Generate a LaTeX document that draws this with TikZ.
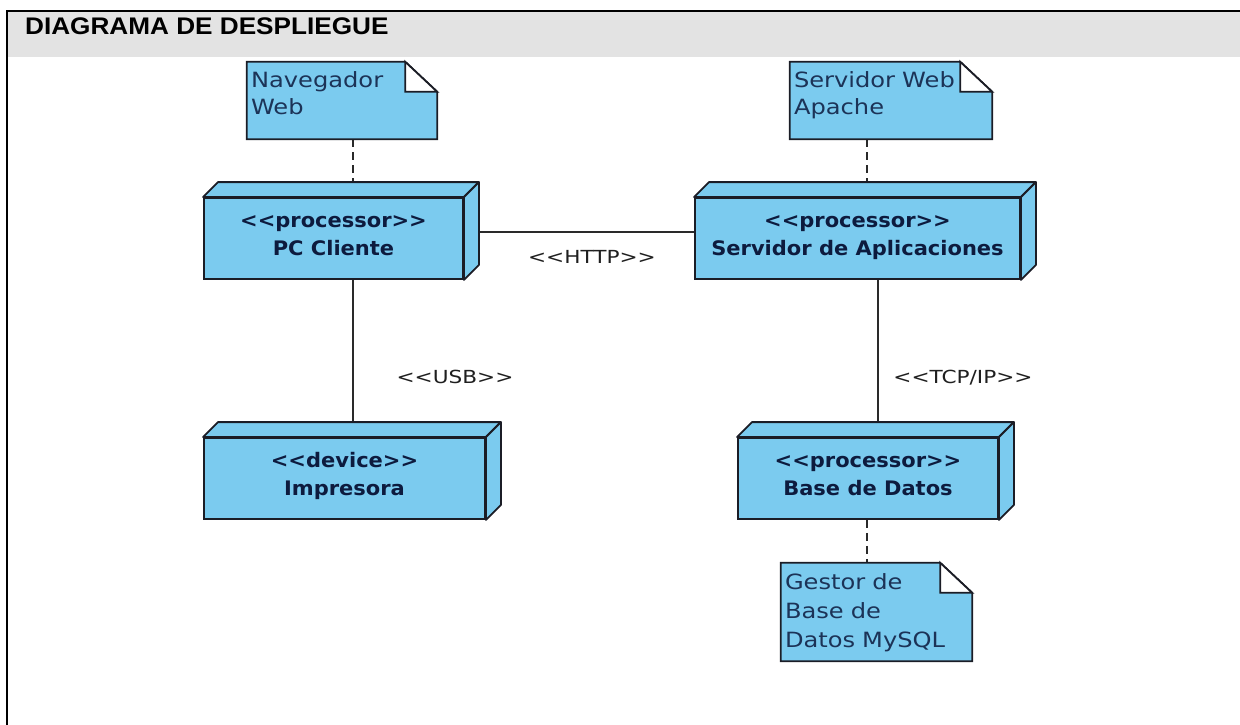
\documentclass[tikz,border=0pt]{standalone}
\usepackage{fontspec}
\usetikzlibrary{calc}

\newfontfamily\umlfont{DejaVu Sans}[FakeStretch=1.2]
\newfontfamily\notefont{DejaVu Sans}[FakeStretch=1.15]
\newfontfamily\umlboldfont{DejaVu Sans}[FakeStretch=1.05]
\newfontfamily\titlefont{Liberation Sans}[FakeStretch=1.09]

\definecolor{umlfill}{HTML}{7BCBEF}
\definecolor{umlline}{HTML}{1B1D26}
\definecolor{umltext}{HTML}{0D1B3E}
\definecolor{notetextc}{HTML}{1C3357}
\definecolor{linkgray}{HTML}{2A2A2A}
\definecolor{labeltext}{HTML}{1F1F1F}
\definecolor{headgray}{HTML}{E3E3E3}

\pgfdeclarelayer{edges}
\pgfdeclarelayer{faces}
\pgfsetlayers{edges,faces,main}

\tikzset{
  nodebox/.style={rectangle, draw=umlline, line width=1.8pt, fill=umlfill,
    minimum height=81pt, inner sep=0pt, align=center, text=umltext,
    font=\umlboldfont\bfseries\fontsize{20}{28}\selectfont},
  face/.style={draw=umlline, line width=1.8pt, fill=umlfill, line join=round},
  notetext/.style={rectangle, inner xsep=4pt, inner ysep=0pt, align=left,
    text=notetextc, font=\notefont\fontsize{21}{27}\selectfont},
  notebody/.style={draw=umlline, line width=1.8pt, fill=umlfill},
  notecorner/.style={draw=umlline, line width=1.8pt, fill=white},
  link/.style={draw=linkgray, line width=1.5pt},
  dep/.style={link, dash pattern=on 8pt off 5pt},
  linklabel/.style={text=labeltext, inner sep=0pt,
    font=\umlfont\fontsize{18}{22}\selectfont},
}

% top and right faces of a 3D deployment node
\newcommand\nodefaces[1]{%
  \begin{pgfonlayer}{faces}
    \draw[face] (#1.north west) -- ++(15,-15) -- ($(#1.north east)+(15,-15)$)
      -- (#1.north east) -- cycle;
    \draw[face] (#1.north east) -- ++(15,-15) -- ($(#1.south east)+(15,-15)$)
      -- (#1.south east) -- cycle;
  \end{pgfonlayer}}

% outline of a note with a folded corner
\newcommand\notefold[1]{%
  \begin{pgfonlayer}{faces}
    \draw[notebody] (#1.north west) -- ($(#1.north east)+(-32,0)$)
      -- ($(#1.north east)+(0,30)$) -- (#1.south east) -- (#1.south west) -- cycle;
    \draw[notecorner] ($(#1.north east)+(-32,0)$) -- ($(#1.north east)+(-32,30)$)
      -- ($(#1.north east)+(0,30)$) -- cycle;
  \end{pgfonlayer}}

\newcommand\upstrut[1]{\rule{0pt}{#1}}
\newcommand\downstrut[1]{\rule[-#1]{0pt}{#1}}

\begin{document}
\begin{tikzpicture}[x=1pt,y=-1pt]
\useasboundingbox (0,0) rectangle (1240,725);

% frame and header
\fill[headgray] (8,12) rectangle (1240,57);
\draw[line width=2.2pt, line cap=rect] (7,725) -- (7,11) -- (1240,11);
\node[anchor=base west, inner sep=0pt, font=\titlefont\bfseries\fontsize{24}{28}\selectfont]
  (title) at (25,35) {DIAGRAMA DE DESPLIEGUE};

% deployment nodes
\node[nodebox, minimum width=259pt] (pc) at (333.5,238.5)
  {\upstrut{17pt}<{}<processor>{}>\\PC Cliente\downstrut{12pt}};
\node[nodebox, minimum width=325pt] (srv) at (857.5,238.5)
  {\upstrut{17pt}<{}<processor>{}>\\Servidor de Aplicaciones\downstrut{12pt}};
\node[nodebox, minimum width=281pt] (imp) at (344.5,478.5)
  {\upstrut{17pt}<{}<device>{}>\\Impresora\downstrut{12pt}};
\node[nodebox, minimum width=260pt] (db) at (868,478.5)
  {\upstrut{17pt}<{}<processor>{}>\\Base de Datos\downstrut{12pt}};
\nodefaces{pc}
\nodefaces{srv}
\nodefaces{imp}
\nodefaces{db}

% notes
\node[notetext, minimum width=190pt, minimum height=77pt, text width=182pt]
  (nav) at (342,100.5) {\upstrut{18pt}Navegador\\Web\downstrut{16pt}};
\node[notetext, minimum width=202pt, minimum height=77pt, text width=194pt]
  (web) at (891,100.5) {\upstrut{18pt}Servidor Web\\Apache\downstrut{16pt}};
\node[notetext, minimum width=191pt, minimum height=98pt, text width=183pt,
  font=\notefont\fontsize{21}{29}\selectfont]
  (gm) at (876.5,612) {\upstrut{20pt}Gestor de\\Base de\\Datos MySQL\downstrut{8pt}};
\notefold{nav}
\notefold{web}
\notefold{gm}

% connectors
\coordinate (httpy) at (0,232);
\coordinate (leftx) at (353,0);
\coordinate (rightx) at (878,0);
\coordinate (depx) at (867,0);
\begin{pgfonlayer}{edges}
  \draw[link] (pc.east |- httpy) --
    node[linklabel, pos=0.556, yshift=-25pt] (http) {<{}<HTTP>{}>} (srv.west |- httpy);
  \draw[link] (pc.south -| leftx) --
    node[linklabel, pos=0.62, xshift=102pt] (usb) {<{}<USB>{}>} (imp.north -| leftx);
  \draw[link] (srv.south -| rightx) --
    node[linklabel, pos=0.62, xshift=85pt] (tcp) {<{}<TCP/IP>{}>} (db.north -| rightx);
  \draw[dep] (nav.south -| leftx) -- (pc.north -| leftx);
  \draw[dep] (web.south -| depx) -- (srv.north -| depx);
  \draw[dep] (db.south -| depx) -- (gm.north -| depx);
\end{pgfonlayer}
\end{tikzpicture}
\end{document}
